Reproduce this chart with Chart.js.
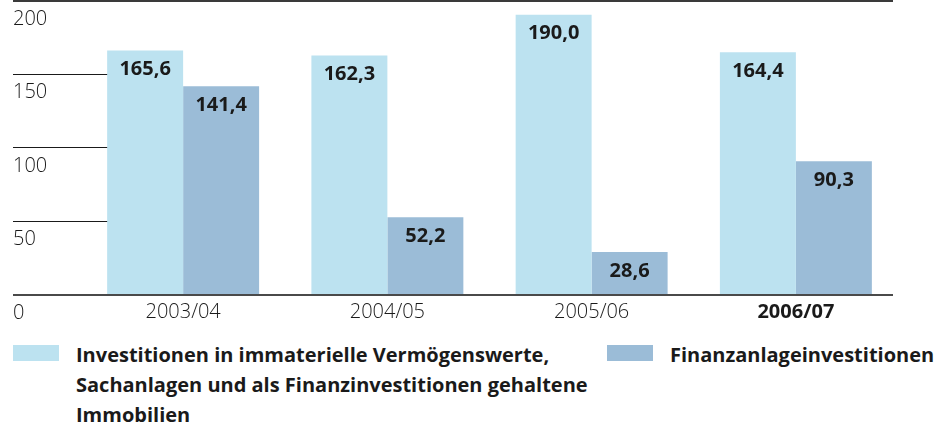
<!DOCTYPE html>
<html lang="de">
<head>
<meta charset="utf-8">
<title>Investitionen</title>
<script src="https://cdn.jsdelivr.net/npm/chart.js@4.4.1/dist/chart.umd.min.js"></script>
<style>
  html, body { margin: 0; padding: 0; background: #fff; }
  #wrap { position: relative; width: 938px; height: 428px; overflow: hidden; }
  #chart { position: absolute; left: 0; top: 0; }
  .legend-item { position: absolute; top: 340px; font: bold 20px 'Open Sans', sans-serif; line-height: 30px; color: #1a1a1a; white-space: nowrap; }
  .legend-item .swatch { position: absolute; left: 0; top: 5px; width: 46px; height: 16px; }
  .legend-item .text { position: absolute; left: 63px; top: 0; }
</style>
</head>
<body>
<div id="wrap">
  <canvas id="chart" width="938" height="330"></canvas>
  <div id="legend"></div>
</div>
<script>
// Data (Mio. EUR)
const YEARS = ['2003/04', '2004/05', '2005/06', '2006/07'];
const SACHANLAGEN = [165.6, 162.3, 190.0, 164.4];
const FINANZANLAGEN = [141.4, 52.2, 28.6, 90.3];
const LABEL_SACH = ['Investitionen in immaterielle Vermögenswerte,', 'Sachanlagen und als Finanzinvestitionen gehaltene', 'Immobilien'];
const LABEL_FIN = ['Finanzanlageinvestitionen'];

const FONT = "'Open Sans', sans-serif";
const COLORS = {
    LIGHT: 'rgb(188, 226, 240)',
    DARK: 'rgb(155, 188, 215)',
    TEXT: '#1a1a1a',
    LINE: '#3a3a3a'
};

// horizontal rules + value labels (no datalabels plugin available)
const rulesPlugin = {
    id: 'rules',
    beforeDatasetsDraw(chart) {
        const { ctx, chartArea, scales: { y } } = chart;
        const firstBar = chart.getDatasetMeta(0).data[0];
        const gridEnd = firstBar.x - firstBar.width / 2 + 3;
        ctx.save();
        ctx.strokeStyle = COLORS.TEXT;
        ctx.lineWidth = 1;
        for (const tick of y.ticks) {
            if (tick.value === y.min || tick.value === y.max) continue;
            const py = Math.round(y.getPixelForValue(tick.value)) + 0.5;
            ctx.beginPath();
            ctx.moveTo(y.left, py);
            ctx.lineTo(gridEnd, py);
            ctx.stroke();
        }
        // top rule
        const top = y.getPixelForValue(y.max) + 1;
        ctx.strokeStyle = COLORS.LINE;
        ctx.lineWidth = 2;
        ctx.beginPath();
        ctx.moveTo(y.left, top);
        ctx.lineTo(chartArea.right - 5, top);
        ctx.stroke();
        ctx.restore();
    },
    afterDatasetsDraw(chart) {
        const { ctx, chartArea, scales: { y } } = chart;
        ctx.save();
        // baseline
        const base = y.getPixelForValue(0) + 1;
        ctx.strokeStyle = '#4a4a4a';
        ctx.lineWidth = 2;
        ctx.beginPath();
        ctx.moveTo(y.left, base);
        ctx.lineTo(chartArea.right - 5, base);
        ctx.stroke();
        // values inside the bars
        ctx.fillStyle = COLORS.TEXT;
        ctx.font = 'bold 20px ' + FONT;
        ctx.textAlign = 'center';
        ctx.textBaseline = 'middle';
        chart.data.datasets.forEach((ds, i) => {
            chart.getDatasetMeta(i).data.forEach((bar, j) => {
                const text = ds.data[j].toFixed(1).replace('.', ',');
                ctx.fillText(text, bar.x, bar.y + 19);
            });
        });
        ctx.restore();
    }
};

const chart = new Chart(document.getElementById('chart'), {
    type: 'bar',
    data: {
        labels: YEARS,
        datasets: [{
            label: LABEL_SACH.join(' '),
            data: SACHANLAGEN,
            backgroundColor: COLORS.LIGHT
        }, {
            label: LABEL_FIN.join(' '),
            data: FINANZANLAGEN,
            backgroundColor: COLORS.DARK
        }]
    },
    options: {
        responsive: false,
        animation: false,
        layout: { padding: { left: 13, right: 40, top: 0, bottom: 0 } },
        datasets: {
            bar: { barPercentage: 1, categoryPercentage: 0.744, borderWidth: 0 }
        },
        scales: {
            x: {
                grid: { display: false, drawTicks: false },
                border: { display: false },
                ticks: {
                    padding: 6,
                    color: COLORS.TEXT,
                    font: (c) => ({ family: FONT, size: 20, weight: c.index === YEARS.length - 1 ? 'bold' : 300 })
                },
                afterFit: (scale) => { scale.height = 36; scale.paddingLeft = 0; scale.paddingRight = 0; }
            },
            y: {
                min: 0,
                max: 200,
                grid: { display: false, drawTicks: false },
                border: { display: false },
                ticks: {
                    stepSize: 50,
                    labelOffset: 19,
                    crossAlign: 'far',
                    color: COLORS.TEXT,
                    font: { family: FONT, size: 20, weight: 300 }
                },
                afterFit: (scale) => { scale.width = 68; scale.paddingTop = 0; scale.paddingBottom = 0; }
            }
        },
        plugins: {
            legend: { display: false },
            tooltip: { enabled: false }
        }
    },
    plugins: [rulesPlugin]
});

// HTML legend (multi-line labels)
const legendPos = [13, 607];
const legendLines = [LABEL_SACH, LABEL_FIN];
const legendEl = document.getElementById('legend');
chart.data.datasets.forEach((ds, i) => {
    const item = document.createElement('div');
    item.className = 'legend-item';
    item.style.left = legendPos[i] + 'px';
    const sw = document.createElement('span');
    sw.className = 'swatch';
    sw.style.background = ds.backgroundColor;
    const txt = document.createElement('span');
    txt.className = 'text';
    txt.innerHTML = legendLines[i].join('<br>');
    item.appendChild(sw);
    item.appendChild(txt);
    legendEl.appendChild(item);
});
</script>
</body>
</html>
